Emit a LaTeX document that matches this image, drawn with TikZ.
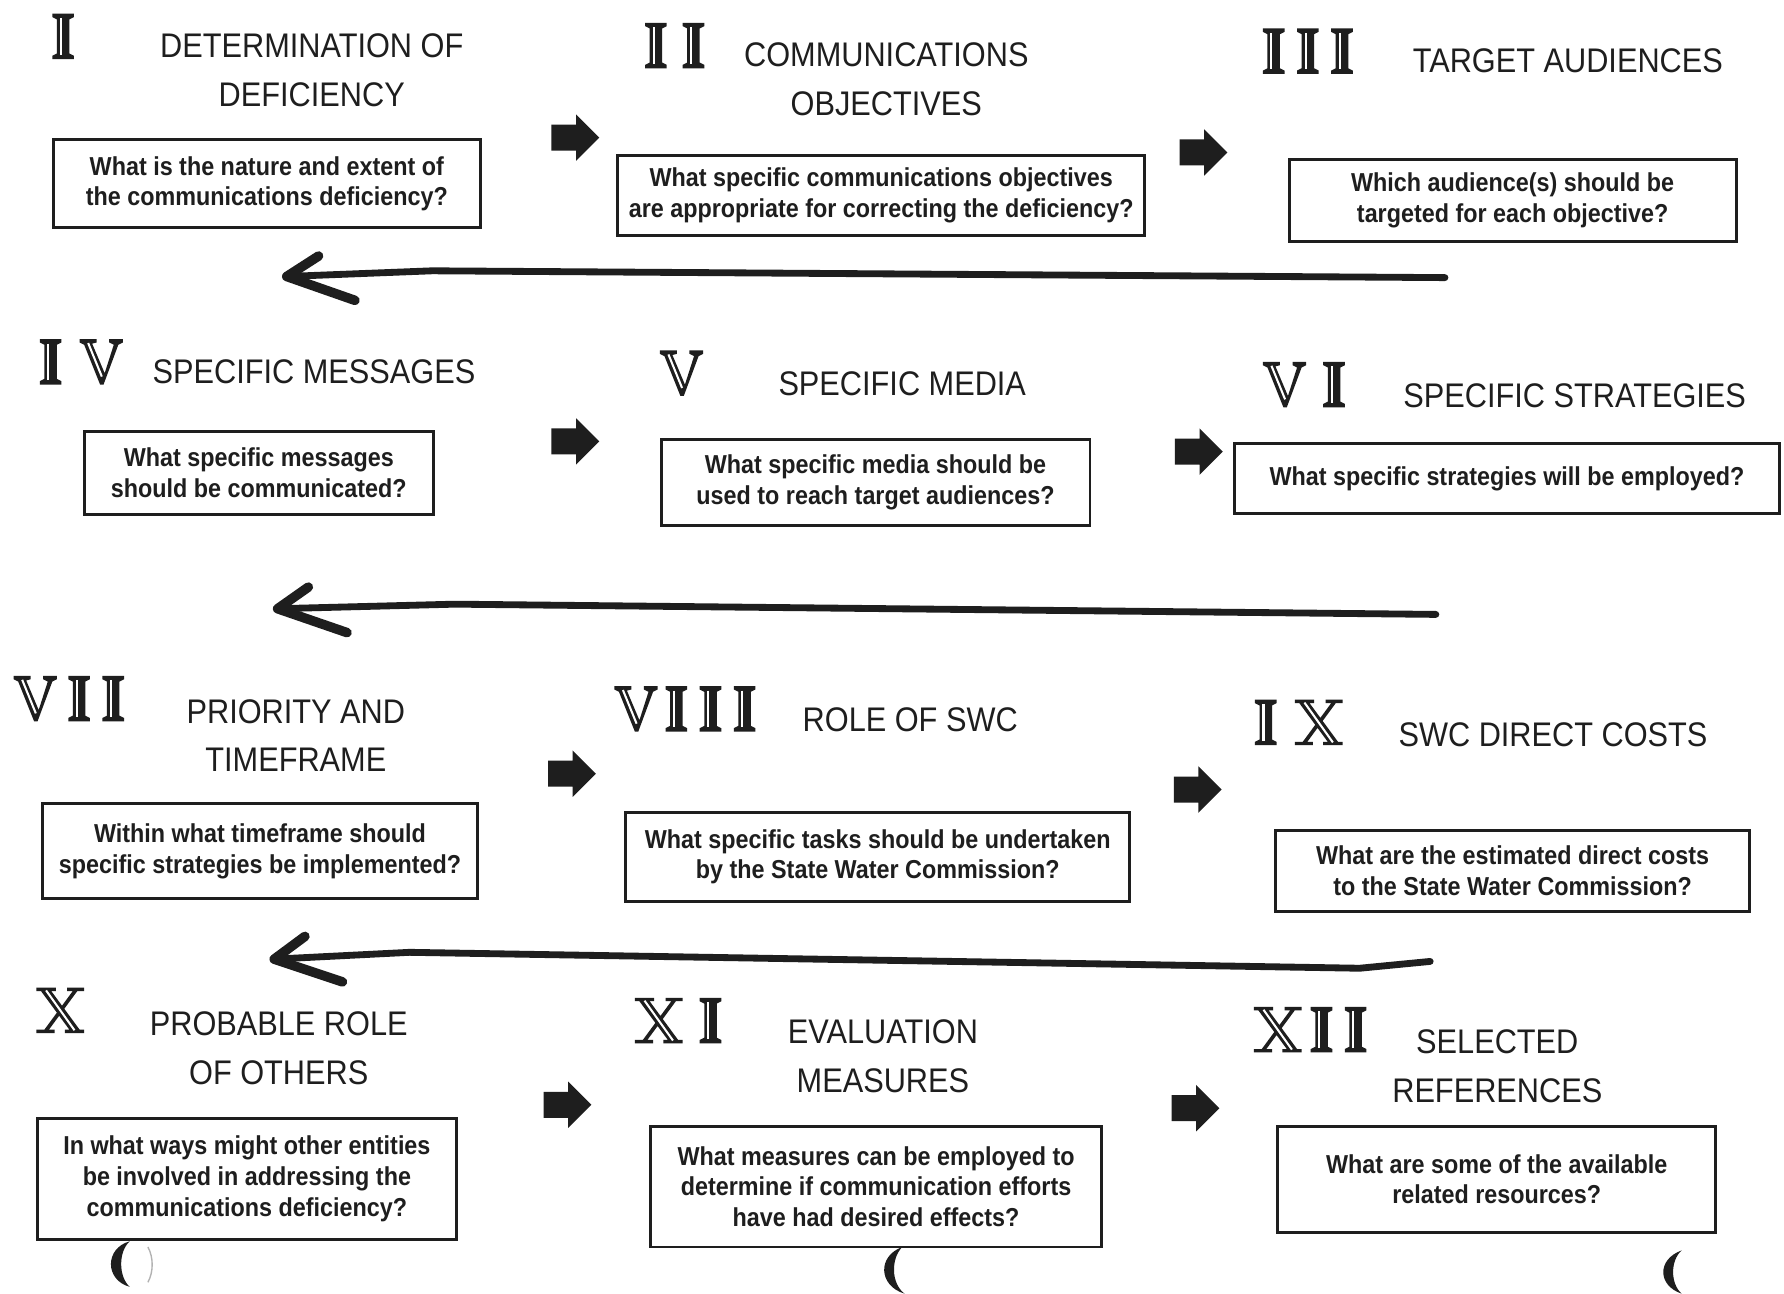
\documentclass[tikz,border=0pt]{standalone}
\usepackage{fontspec}
\setmainfont{Liberation Sans}
\newfontfamily\titlefont[FakeStretch=0.9]{Liberation Sans}
\newfontfamily\boxfont[FakeStretch=0.9]{Liberation Sans}
\usetikzlibrary{arrows.meta,shapes.arrows}
\definecolor{ink}{HTML}{1E1E1E}
\tikzset{
  qbox/.style={draw=ink, line width=1.3pt, align=center, text=ink, inner sep=0pt,
    font=\boxfont\bfseries\fontsize{11.4}{13.5}\selectfont},
  ttl/.style={align=center, text=ink, inner sep=0pt,
    font=\titlefont\fontsize{15}{21.5}\selectfont},
  blockarr/.style={single arrow, fill=ink, draw=none, minimum height=21pt,
    inner sep=5.5pt, single arrow head extend=4.5pt},
  shaft/.style={draw=ink, line width=3pt, line cap=round, line join=round},
  barb/.style={draw=ink, line width=4.2pt, line cap=round, line join=round},
  gIpath/.style={insert path={(0,0) -- (19,0) -- (19,3) -- (15,5) -- (15,35) -- (19,37) -- (19,40) -- (0,40) -- (0,37) -- (4,35) -- (4,5) -- (0,3) -- cycle}},
  gVpath/.style={insert path={(0,0) -- (15,0) -- (15,3) -- (11,4) -- (22,30) -- (30,5) -- (26,3) -- (26,0) -- (38,0) -- (38,3) -- (34,5) -- (21,40) -- (18,40) -- (4,5) -- (0,3) -- cycle}},
  gXpath/.style={insert path={(4,3) -- (13,3) -- (38,37) -- (29,37) -- cycle
     (32,3) -- (36,3) -- (11,37) -- (7,37) -- cycle
     (0,0) rectangle (17,3) (27,0) rectangle (42,3)
     (0,37) rectangle (16,40) (25,37) rectangle (42,40)}},
  romI/.pic={\fill[ink, gIpath];
    \draw[white, line width=0.9pt] (7.5,4) -- (7.5,36);},
  romV/.pic={\fill[ink, gVpath];
    \draw[white, line width=0.9pt] (7.5,3.5) -- (19.5,33);},
  romX/.pic={\fill[ink, gXpath];
    \draw[white, line width=0.9pt] (8.5,2.5) -- (33.5,37.5);},
}
\begin{document}
\begin{tikzpicture}[x=0.5pt, y=-0.5pt]
\useasboundingbox (0,0) rectangle (1568,1137);
\fill[white] (0,0) rectangle (1568,1137);

% ---------- numerals ----------
\pic at (46,12) {romI};
\pic at (567,20) {romI}; \pic at (600,20) {romI};
\pic at (1110,25) {romI}; \pic at (1140,25) {romI}; \pic at (1170,25) {romI};
\pic at (35,298) {romI}; \pic at (70,298) {romV};
\pic at (580,308) {romV};
\pic at (1110,318) {romV}; \pic at (1163,318) {romI};
\pic at (12,594) {romV}; \pic at (60,594) {romI}; \pic at (90,594) {romI};
\pic at (540,603) {romV}; \pic at (585,603) {romI}; \pic at (615,603) {romI}; \pic at (645,603) {romI};
\pic at (1103,615) {romI}; \pic at (1138,615) {romX};
\pic at (32,868) {romX};
\pic at (558,877) {romX}; \pic at (615,877) {romI};
\pic at (1102,885) {romX}; \pic at (1152,885) {romI}; \pic at (1182,885) {romI};

% ---------- titles ----------
\node[ttl] (t1) at (274,61.5) {DETERMINATION OF\\DEFICIENCY};
\node[ttl] (t2) at (779,69.5) {COMMUNICATIONS\\OBJECTIVES};
\node[ttl] (t3) at (1378,53) {TARGET AUDIENCES};
\node[ttl] (t4) at (276,327) {SPECIFIC MESSAGES};
\node[ttl] (t5) at (793,337) {SPECIFIC MEDIA};
\node[ttl] (t6) at (1384,348) {SPECIFIC STRATEGIES};
\node[ttl] (t7) at (260,646.5) {PRIORITY AND\\TIMEFRAME};
\node[ttl] (t8) at (800,633) {ROLE OF SWC};
\node[ttl] (t9) at (1365,646) {SWC DIRECT COSTS};
\node[ttl] (t10) at (245,921.5) {PROBABLE ROLE\\OF OTHERS};
\node[ttl] (t11) at (776,928) {EVALUATION\\MEASURES};
\node[ttl] (t12) at (1316,937.5) {SELECTED\\REFERENCES};

% ---------- question boxes ----------
\node[qbox, minimum width=187.5pt, minimum height=38.5pt] (b1) at (234.5,161.5)
  {What is the nature and extent of\\the communications deficiency?};
\node[qbox, minimum width=231.5pt, minimum height=35pt] (b2) at (774.5,172)
  {What specific communications objectives\\are appropriate for correcting the deficiency?};
\node[qbox, minimum width=196.5pt, minimum height=36pt] (b3) at (1329.5,176)
  {Which audience(s) should be\\targeted for each objective?};
\node[qbox, minimum width=153.5pt, minimum height=36.5pt] (b4) at (227.5,415.5)
  {What specific messages\\should be communicated?};
\node[qbox, minimum width=188.5pt, minimum height=38pt] (b5) at (769.5,424)
  {What specific media should be\\used to reach target audiences?};
\node[qbox, minimum width=239.5pt, minimum height=30.5pt] (b6) at (1324.5,420.5)
  {What specific strategies will be employed?};
\node[qbox, minimum width=191.5pt, minimum height=42pt] (b7) at (228.5,748)
  {Within what timeframe should\\specific strategies be implemented?};
\node[qbox, minimum width=221.5pt, minimum height=39pt] (b8) at (771.5,753)
  {What specific tasks should be undertaken\\by the State Water Commission?};
\node[qbox, minimum width=208.5pt, minimum height=35.5pt] (b9) at (1329.5,765.5)
  {What are the estimated direct costs\\to the State Water Commission?};
\node[qbox, minimum width=184pt, minimum height=53pt] (b10) at (217,1036)
  {In what ways might other entities\\be involved in addressing the\\communications deficiency?};
\node[qbox, minimum width=198pt, minimum height=53pt] (b11) at (770,1043)
  {What measures can be employed to\\determine if communication efforts\\have had desired effects?};
\node[qbox, minimum width=192.5pt, minimum height=46.5pt] (b12) at (1315.5,1036.5)
  {What are some of the available\\related resources?};

% ---------- block arrows ----------
\node[blockarr] (a12) at (500,121) {};
\node[blockarr] (a23) at (1052,134) {};
\node[blockarr] (a45) at (500,388) {};
\node[blockarr] (a56) at (1048,397) {};
\node[blockarr] (a78) at (497,680) {};
\node[blockarr] (a89) at (1047,694) {};
\node[blockarr] (a1011) at (493,971) {};
\node[blockarr] (a1112) at (1045,974) {};

% ---------- long return arrows (hand-drawn style) ----------
\coordinate (l1s) at (1270,244); \coordinate (l1m) at (380,238);
\coordinate (l1t) at (252,243); \coordinate (l1u) at (280,225); \coordinate (l1d) at (312,264);
\draw[shaft] (l1s) -- (l1m) -- (l1t);
\draw[barb] (l1u) -- (l1t) -- (l1d);

\coordinate (l2s) at (1262,540); \coordinate (l2m) at (400,531);
\coordinate (l2t) at (244,535); \coordinate (l2u) at (271,516); \coordinate (l2d) at (305,556);
\draw[shaft] (l2s) -- (l2m) -- (l2t);
\draw[barb] (l2u) -- (l2t) -- (l2d);

\coordinate (l3s) at (1257,845); \coordinate (l3k) at (1195,851); \coordinate (l3m) at (360,837);
\coordinate (l3t) at (241,843); \coordinate (l3u) at (268,823); \coordinate (l3d) at (301,863);
\draw[shaft] (l3s) -- (l3k) -- (l3m) -- (l3t);
\draw[barb] (l3u) -- (l3t) -- (l3d);

% ---------- binder-hole marks ----------
\fill[ink] (114,1091) .. controls (92,1097) and (92,1125) .. (114,1131)
  .. controls (104,1122) and (104,1100) .. (114,1091) -- cycle;
\draw[gray!60, line width=0.6pt] (130,1096) .. controls (135,1105) and (135,1118) .. (130,1127);
\fill[ink] (793,1096) .. controls (771,1104) and (772,1130) .. (795,1137)
  .. controls (783,1128) and (783,1106) .. (793,1096) -- cycle;
\fill[ink] (1478,1099) .. controls (1456,1107) and (1457,1130) .. (1478,1137)
  .. controls (1468,1128) and (1468,1108) .. (1478,1099) -- cycle;
\end{tikzpicture}
\end{document}
